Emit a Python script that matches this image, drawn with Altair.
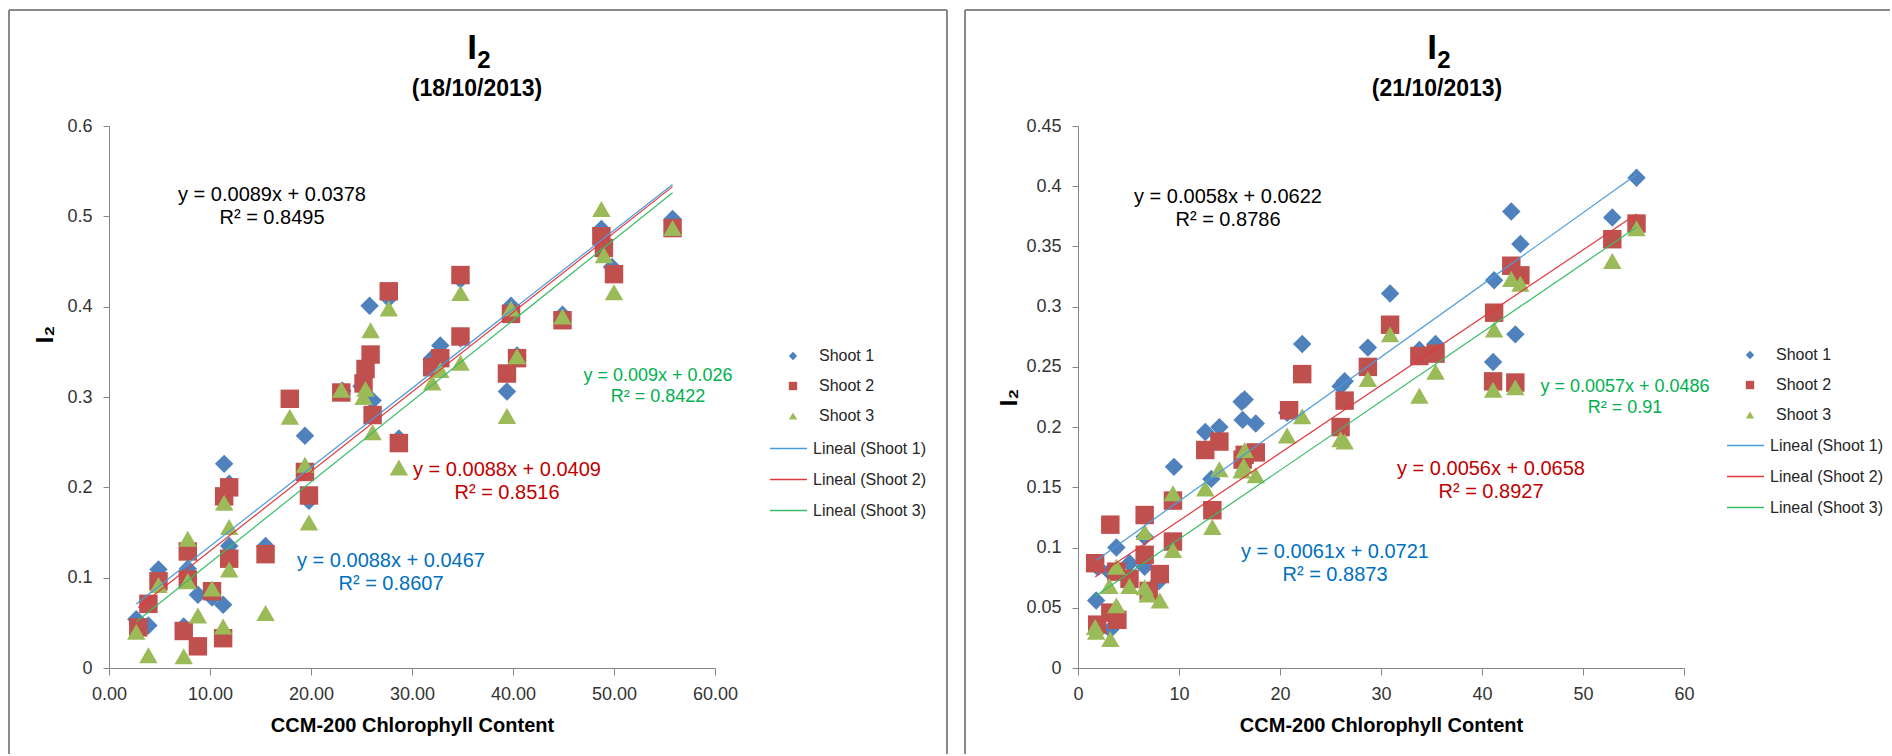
import altair as alt
import pandas as pd

FONT = "Liberation Sans"

# ---------------- shared categories / ticks ----------------
SERIES = ["Shoot 1", "Shoot 2", "Shoot 3"]
TRENDS = ["Lineal (Shoot 1)", "Lineal (Shoot 2)", "Lineal (Shoot 3)"]
MARKER_COLORS = ["#4F81BD", "#C0504D", "#9BBB59"]
TREND_COLORS = ["#4A9BDC", "#E0393E", "#38BC66"]
SHAPES = ["diamond", "square", "triangle-up"]
XTICKS = [0, 10, 20, 30, 40, 50, 60]
L_YTICKS = [0, 0.1, 0.2, 0.3, 0.4, 0.5, 0.6]
R_YTICKS = [0, 0.05, 0.1, 0.15, 0.2, 0.25, 0.3, 0.35, 0.4, 0.45]
X_TITLE = "CCM-200 Chlorophyll Content"
Y_TITLE = "I₂"

# ---------------- left panel (18/10/2013) ----------------
L_TITLE = ["I", "2", "(18/10/2013)"]
L_S1_X = [2.7, 3.9, 4.9, 7.4, 7.8, 8.8, 10.2, 11.3, 11.4, 11.9, 11.9, 15.5, 19.4, 19.8, 23.1, 25.0,
          25.8, 26.1, 27.7, 28.7, 32.0, 32.8, 34.8, 34.8, 39.4, 39.8, 40.4, 44.9, 48.75, 49.8, 55.8]
L_S1_Y = [0.054, 0.047, 0.109, 0.046, 0.110, 0.081, 0.078, 0.070, 0.226, 0.204, 0.135, 0.135, 0.257, 0.185, 0.307, 0.312,
          0.401, 0.296, 0.409, 0.254, 0.343, 0.357, 0.365, 0.430, 0.306, 0.401, 0.346, 0.391, 0.486, 0.444, 0.497]
L_S2_X = [2.9, 3.9, 4.9, 7.4, 7.8, 7.8, 8.8, 10.2, 11.3, 11.4, 11.9, 11.9, 15.5, 17.9, 19.4, 19.8, 23.0, 25.2,
          25.4, 25.9, 26.1, 27.7, 28.7, 32.0, 32.8, 34.8, 34.8, 39.4, 39.8, 40.4, 44.9, 48.75, 49.0, 50.0, 55.8]
L_S2_Y = [0.045, 0.071, 0.096, 0.041, 0.129, 0.098, 0.024, 0.085, 0.033, 0.190, 0.200, 0.121, 0.126, 0.298, 0.217, 0.191, 0.305, 0.315,
          0.331, 0.347, 0.280, 0.417, 0.249, 0.333, 0.343, 0.367, 0.435, 0.326, 0.392, 0.343, 0.385, 0.478, 0.465, 0.436, 0.487]
L_S3_X = [2.7, 3.9, 4.9, 7.4, 7.8, 7.8, 8.8, 10.2, 11.3, 11.4, 11.9, 11.9, 15.5, 17.9, 19.4, 19.8, 23.0, 25.2,
          25.4, 25.9, 26.1, 27.7, 28.7, 32.0, 32.8, 34.8, 34.8, 39.4, 39.8, 40.4, 44.9, 48.75, 49.0, 50.0, 55.8]
L_S3_Y = [0.040, 0.014, 0.092, 0.013, 0.143, 0.096, 0.058, 0.088, 0.046, 0.183, 0.156, 0.109, 0.061, 0.278, 0.225, 0.161, 0.308, 0.300,
          0.309, 0.374, 0.261, 0.398, 0.222, 0.316, 0.330, 0.338, 0.415, 0.279, 0.398, 0.345, 0.389, 0.508, 0.457, 0.416, 0.487]
L_EQ_TEXT = ["y = 0.0089x + 0.0378\nR² = 0.8495", "y = 0.0088x + 0.0467\nR² = 0.8607",
             "y = 0.0088x + 0.0409\nR² = 0.8516", "y = 0.009x + 0.026\nR² = 0.8422"]

# ---------------- right panel (21/10/2013) ----------------
R_TITLE = ["I", "2", "(21/10/2013)"]
R_S1_X = [1.8, 1.9, 3.2, 3.1, 3.8, 5.1, 6.6, 6.6, 8.0, 9.5, 9.4, 12.6, 13.2, 14.0, 16.2, 16.5, 16.3, 17.6, 20.7,
          22.2, 26.0, 26.4, 28.7, 30.9, 33.8, 35.4, 41.1, 41.2, 42.9, 43.3, 43.8, 52.9, 55.3]
R_S1_Y = [0.056, 0.084, 0.032, 0.080, 0.100, 0.087, 0.084, 0.109, 0.072, 0.167, 0.139, 0.196, 0.157, 0.200, 0.221, 0.223, 0.206, 0.203, 0.212,
          0.269, 0.234, 0.238, 0.266, 0.311, 0.264, 0.269, 0.254, 0.322, 0.379, 0.277, 0.352, 0.374, 0.407]
R_S2_X = [1.7, 1.9, 3.2, 3.2, 3.9, 3.8, 5.1, 6.6, 6.6, 7.0, 8.1, 9.4, 9.4, 12.6, 13.3, 14.0, 16.3, 16.5, 17.6,
          20.9, 22.2, 26.0, 26.4, 28.7, 30.9, 33.8, 35.4, 41.1, 41.2, 42.9, 43.3, 43.8, 52.9, 55.3]
R_S2_Y = [0.087, 0.036, 0.119, 0.046, 0.040, 0.080, 0.074, 0.127, 0.094, 0.064, 0.078, 0.139, 0.105, 0.181, 0.131, 0.188, 0.173, 0.177, 0.179,
          0.214, 0.244, 0.200, 0.222, 0.250, 0.285, 0.259, 0.261, 0.238, 0.295, 0.334, 0.237, 0.326, 0.356, 0.369]
R_S3_X = [1.7, 1.8, 3.2, 3.1, 3.8, 3.8, 5.1, 6.6, 6.6, 6.9, 8.1, 9.4, 9.4, 12.6, 13.3, 14.0, 16.2, 16.5, 16.4, 17.6,
          20.7, 22.2, 26.0, 26.4, 28.7, 30.9, 33.8, 35.4, 41.1, 41.2, 42.9, 43.3, 43.8, 52.9, 55.3]
R_S3_Y = [0.034, 0.030, 0.024, 0.068, 0.052, 0.084, 0.068, 0.113, 0.067, 0.061, 0.056, 0.145, 0.098, 0.149, 0.117, 0.165, 0.164, 0.181, 0.168, 0.160,
          0.193, 0.209, 0.190, 0.188, 0.240, 0.277, 0.226, 0.246, 0.231, 0.281, 0.323, 0.233, 0.319, 0.338, 0.365]
R_EQ_TEXT = ["y = 0.0058x + 0.0622\nR² = 0.8786", "y = 0.0061x + 0.0721\nR² = 0.8873",
             "y = 0.0056x + 0.0658\nR² = 0.8927", "y = 0.0057x + 0.0486\nR² = 0.91"]

EQ_COLORS = ["#000000", "#0070C0", "#C00000", "#00B050"]
EQ_SIZES = [20, 20, 20, 18]

W, H = 606, 542


def text_layer(txt, x, y, size, color="#000000", bold=False, align="center", baseline="alphabetic", lh=None):
    return alt.Chart(pd.DataFrame({"t": [txt]})).mark_text(
        font=FONT, fontSize=size, fontWeight="bold" if bold else "normal", color=color,
        align=align, baseline=baseline, lineBreak="\n", lineHeight=lh if lh else size * 1.15,
    ).encode(text="t:N", x=alt.value(x), y=alt.value(y))


def rule_layer(x, y, x2, y2):
    return alt.Chart(pd.DataFrame({"r": [0]})).mark_rule(color="#8A8A8A", strokeWidth=2).encode(
        x=alt.value(x), y=alt.value(y), x2=alt.value(x2), y2=alt.value(y2))


def make_panel(xs, ys, ydom, yticks, xfmt, title, eq_text, lay):
    rows = []
    for name, sx, sy in zip(SERIES, xs, ys):
        rows += [{"x": a, "y": b, "series": name} for a, b in zip(sx, sy)]
    df = pd.DataFrame(rows)

    xenc = alt.X("x:Q", scale=alt.Scale(domain=[0, 60], nice=False, zero=False),
                 axis=alt.Axis(values=XTICKS, format=xfmt, title=X_TITLE, titleX=W / 2, titleY=63,
                               titleBaseline="alphabetic", titleAlign="center",
                               tickSize=7, labelPadding=10, labelFlush=False, labelOverlap=False))
    yenc = alt.Y("y:Q", scale=alt.Scale(domain=ydom, nice=False, zero=False),
                 axis=alt.Axis(values=yticks, format="~g", title=Y_TITLE,
                               titleX=lay["ytitle"][0], titleY=lay["ytitle"][1], titleAngle=270,
                               titleAlign="center", titleBaseline="middle",
                               tickSize=6, labelPadding=11, labelOverlap=False))

    pleg = alt.Legend(title=None, orient="none", legendX=lay["pleg"][0], legendY=lay["pleg"][1],
                      symbolSize=70, symbolStrokeWidth=0, labelOffset=18, rowPadding=14)
    lleg = alt.Legend(title=None, orient="none", legendX=lay["lleg"][0], legendY=lay["lleg"][1],
                      symbolSize=1369, symbolStrokeWidth=1.3, symbolType="stroke", labelOffset=5, rowPadding=3)

    points = alt.Chart(df).mark_point(filled=True, size=340, opacity=1).encode(
        x=xenc, y=yenc,
        color=alt.Color("series:N", scale=alt.Scale(domain=SERIES, range=MARKER_COLORS), legend=pleg),
        shape=alt.Shape("series:N", scale=alt.Scale(domain=SERIES, range=SHAPES), legend=pleg),
    )
    lines = alt.Chart(df).transform_regression("x", "y", groupby=["series"]).transform_calculate(
        trend='"Lineal (" + datum.series + ")"'
    ).mark_line(strokeWidth=1.2).encode(
        x=alt.X("x:Q"), y=alt.Y("y:Q"),
        stroke=alt.Stroke("trend:N", scale=alt.Scale(domain=TRENDS, range=TREND_COLORS), legend=lleg),
    )

    bx1, bx2 = lay["border"]
    layers = [rule_layer(bx1, -116, bx2, -116), rule_layer(bx1, -116, bx1, 628)]
    if lay.get("right_edge", True):
        layers.append(rule_layer(bx2, -116, bx2, 628))
    layers += [points, lines]
    for txt, col, sz, (ex, ey) in zip(eq_text, EQ_COLORS, EQ_SIZES, lay["eq"]):
        layers.append(text_layer(txt, ex, ey, sz, col, lh=23 if sz == 20 else 21))
    tx = lay["title"]
    layers.append(text_layer(title[0], tx[0], -67, 35, bold=True))
    layers.append(text_layer(title[1], tx[1], -58, 24, bold=True))
    layers.append(text_layer(title[2], tx[2], -30, 23, bold=True))
    return alt.layer(*layers).properties(width=W, height=H)


left = make_panel([L_S1_X, L_S2_X, L_S3_X], [L_S1_Y, L_S2_Y, L_S3_Y], [0, 0.6], L_YTICKS, ".2f", L_TITLE, L_EQ_TEXT,
                  {"ytitle": (-64, 208), "pleg": (676, 222), "lleg": (660, 303),
                   "border": (-100, 838),
                   "eq": [(163, 75), (282, 441), (398, 350), (549, 255)],
                   "title": (363, 375, 368)})
right = make_panel([R_S1_X, R_S2_X, R_S3_X], [R_S1_Y, R_S2_Y, R_S3_Y], [0, 0.45], R_YTICKS, "d", R_TITLE, R_EQ_TEXT,
                   {"ytitle": (-69, 271), "pleg": (664, 221), "lleg": (648, 300),
                    "border": (-113, 812), "right_edge": False,
                    "eq": [(150, 77), (257, 432), (413, 349), (547, 266)],
                    "title": (354, 366, 359)})

chart = alt.hconcat(left, right, spacing=363, bounds="flush", padding={"left": 8, "top": 9, "right": 0, "bottom": 0}
).resolve_scale(
    color="independent", shape="independent", stroke="independent"
).configure_view(stroke=None).configure_axis(
    domainColor="#868686", tickColor="#868686", domainWidth=1, tickWidth=1, grid=False,
    labelFont=FONT, labelFontSize=18, labelColor="#333333",
    titleFont=FONT, titleFontSize=20, titleFontWeight="bold", titleColor="#000000",
).configure_axisY(titleFontSize=24).configure_legend(
    padding=0, labelFont=FONT, labelFontSize=16, labelColor="#262626"
)

chart.save("out.html", embed_options={"renderer": "svg", "actions": False})
